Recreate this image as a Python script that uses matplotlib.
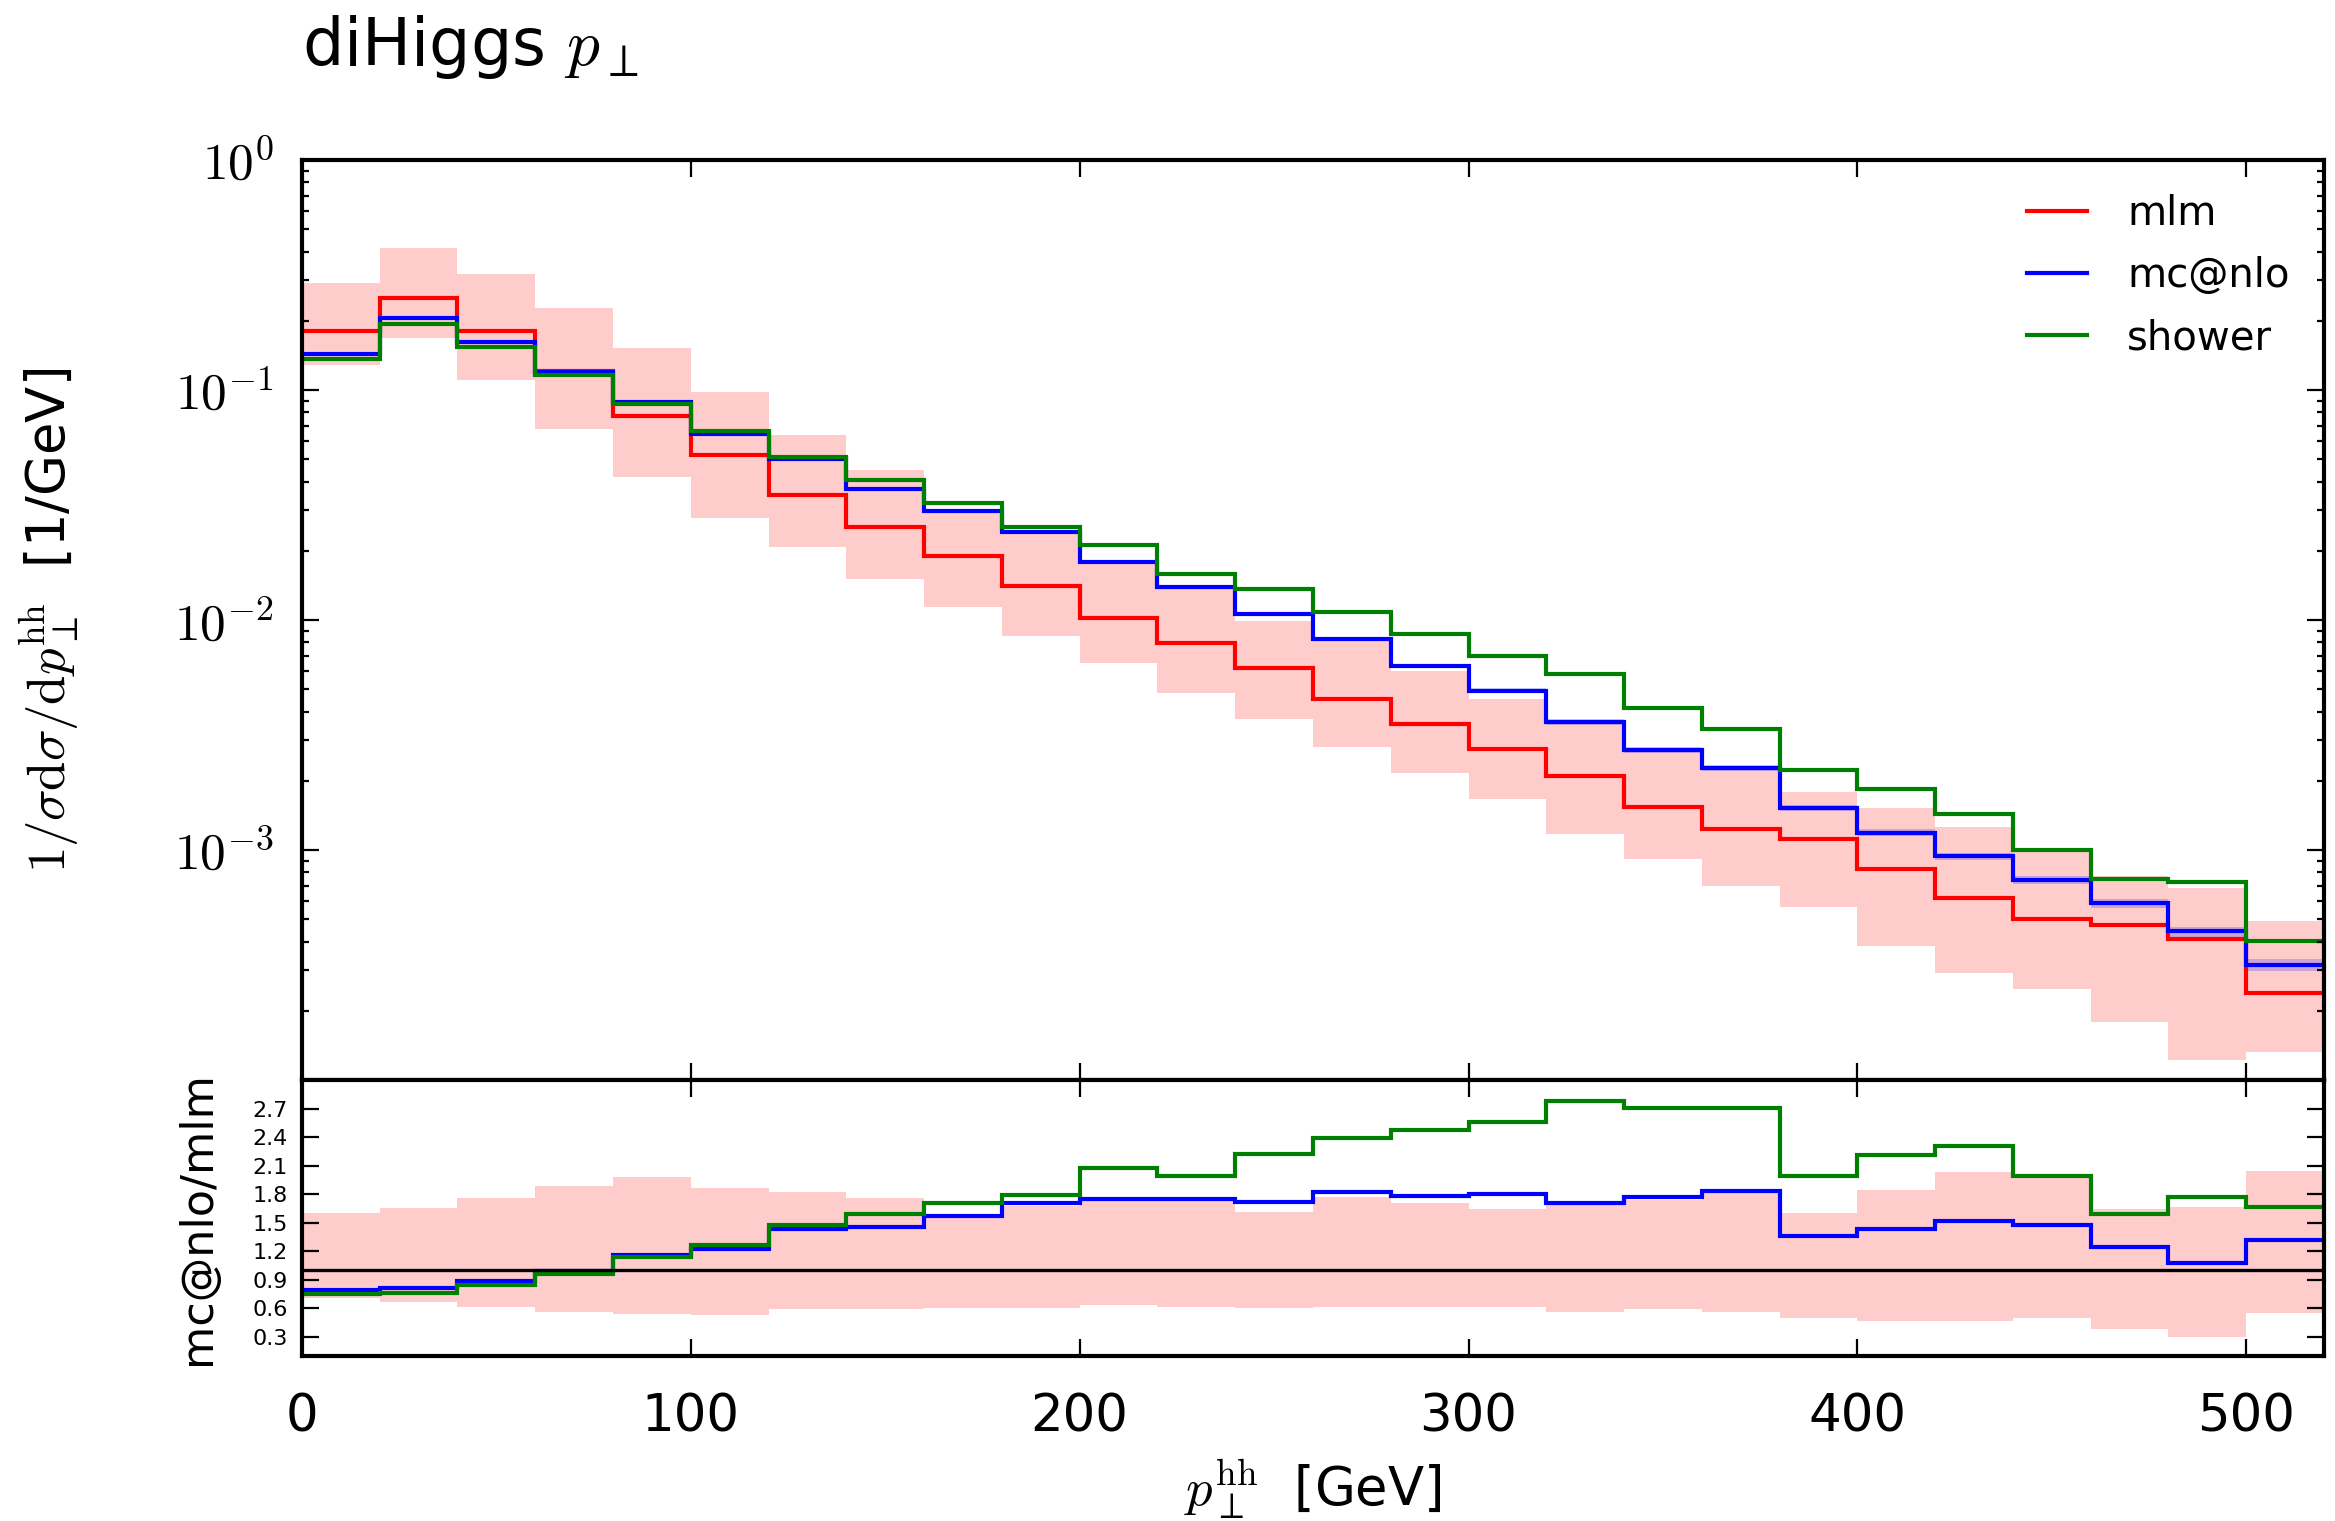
import numpy as np
import matplotlib.pyplot as plt
from matplotlib.lines import Line2D
from matplotlib.ticker import FixedLocator, FuncFormatter, LogLocator, NullFormatter

plt.rcParams['mathtext.fontset'] = 'cm'
plt.rcParams['font.family'] = ['DejaVu Sans']

# bins of p_T^hh [GeV]
edges = np.arange(0, 540, 20)

mlm = np.array([0.181, 0.252, 0.181, 0.1205, 0.0768, 0.0523, 0.0348, 0.0255, 0.019, 0.0141,
                0.0102, 0.00792, 0.00616, 0.00455, 0.00353, 0.00274, 0.0021, 0.00154, 0.00124,
                0.00112, 0.00083, 0.00062, 0.000501, 0.00047, 0.000412, 0.00024])
mlm_up = np.array([0.291, 0.416, 0.319, 0.227, 0.152, 0.0977, 0.0635, 0.0448, 0.0295, 0.0236,
                   0.0177, 0.0139, 0.00993, 0.00807, 0.00602, 0.00452, 0.00357, 0.00268, 0.00227,
                   0.00179, 0.00153, 0.00126, 0.001, 0.000773, 0.000686, 0.000491])
mlm_dn = np.array([0.129, 0.169, 0.111, 0.068, 0.0417, 0.0279, 0.0208, 0.0151, 0.0114, 0.00855,
                   0.00652, 0.00483, 0.00372, 0.00281, 0.00216, 0.00167, 0.00117, 0.00091, 0.0007,
                   0.000563, 0.000384, 0.000293, 0.000249, 0.000179, 0.000122, 0.000133])
mcnlo = np.array([0.144, 0.206, 0.161, 0.120, 0.089, 0.0642, 0.050, 0.0372, 0.0298, 0.0241,
                  0.0178, 0.0139, 0.0106, 0.0083, 0.00629, 0.00493, 0.00359, 0.00272, 0.00227,
                  0.00153, 0.00119, 0.00094, 0.00074, 0.000586, 0.000443, 0.000316])
mcnlo_relerr = np.array([0.005, 0.005, 0.005, 0.005, 0.008, 0.008, 0.01, 0.01, 0.01, 0.012,
                         0.015, 0.015, 0.02, 0.02, 0.02, 0.025, 0.03, 0.03, 0.03,
                         0.03, 0.035, 0.035, 0.04, 0.045, 0.05, 0.06])
shower = np.array([0.136, 0.193, 0.154, 0.116, 0.0872, 0.0664, 0.0513, 0.0407, 0.0324, 0.0253,
                   0.0212, 0.0158, 0.0137, 0.01087, 0.00872, 0.0070, 0.00584, 0.00416, 0.00335,
                   0.00223, 0.00184, 0.00143, 0.001, 0.000748, 0.000728, 0.000401])

labels = ['mlm', 'mc@nlo', 'shower']
colors = ['#ff0000', '#0000ff', '#008000']

fig = plt.figure(figsize=(11.675, 7.605), dpi=200)
ax = fig.add_axes([0.1293, 0.2899, 0.866, 0.6049])
rax = fig.add_axes([0.1293, 0.1085, 0.866, 0.1814], sharex=ax)

# main panel
ax.stairs(mlm_up, edges, baseline=mlm_dn, fill=True, color='red', alpha=0.2, lw=0)
ax.stairs(mcnlo * (1 + mcnlo_relerr), edges, baseline=mcnlo * (1 - mcnlo_relerr),
          fill=True, color='blue', alpha=0.2, lw=0)
for vals, c in zip([mlm, mcnlo, shower], colors):
    ax.stairs(vals, edges, baseline=None, color=c, lw=1.5)

ax.set_yscale('log')
ax.set_xlim(0, 520)
ax.set_ylim(1e-4, 1)
ax.yaxis.set_major_locator(LogLocator(base=10, numticks=10))
ax.yaxis.set_minor_locator(LogLocator(base=10, subs=np.arange(2, 10), numticks=10))
ax.yaxis.set_minor_formatter(NullFormatter())
ax.yaxis.set_major_formatter(FuncFormatter(
    lambda v, p: '' if v < 5e-4 else r'$10^{%d}$' % round(np.log10(v))))
ax.set_ylabel(r'$1/\sigma\mathrm{d}\sigma/\mathrm{d}p_\perp^\mathrm{hh}$  [1/GeV]', fontsize=19)
ax.yaxis.set_label_coords(-0.109, 0.5)

handles = [Line2D([], [], color=c, lw=1.5) for c in colors]
ax.legend(handles, labels, loc='upper right', frameon=False, fontsize=14.5,
          handlelength=1.5, handletextpad=1.0, labelspacing=0.55, borderaxespad=0.45)

# ratio panel
rax.stairs(mlm_up / mlm, edges, baseline=mlm_dn / mlm, fill=True, color='red', alpha=0.2, lw=0)
rax.axhline(1.0, color='black', lw=1.2)
rax.stairs(mcnlo / mlm, edges, baseline=None, color=colors[1], lw=1.5)
rax.stairs(shower / mlm, edges, baseline=None, color=colors[2], lw=1.5)
rax.set_ylim(0.1, 3.0)
rax.yaxis.set_major_locator(FixedLocator([0.3, 0.6, 0.9, 1.2, 1.5, 1.8, 2.1, 2.4, 2.7]))
rax.yaxis.set_major_formatter(FuncFormatter(lambda v, p: '%.1f' % v))
rax.xaxis.set_major_locator(FixedLocator([0, 100, 200, 300, 400, 500]))
rax.set_ylabel('mc@nlo/mlm', fontsize=16)
rax.yaxis.set_label_coords(-0.041, 0.5)
rax.set_xlabel(r'$p_\perp^\mathrm{hh}$  [GeV]', fontsize=19)
rax.xaxis.set_label_coords(0.5, -0.37)

for a in (ax, rax):
    for s in a.spines.values():
        s.set_linewidth(1.5)
    a.tick_params(which='both', direction='in', top=True, right=True, width=0.8)
    a.tick_params(which='major', length=6)
    a.tick_params(which='minor', length=2.5)
ax.tick_params(axis='x', labelbottom=False)
ax.tick_params(axis='y', labelsize=18.5, pad=10)
rax.tick_params(axis='x', labelsize=18.5, pad=13)
rax.tick_params(axis='y', labelsize=8, pad=5)

fig.text(0.1293, 0.957, r'diHiggs $p_\perp$', fontsize=23.5, ha='left', va='baseline')

fig.savefig('out.png', dpi=200)
